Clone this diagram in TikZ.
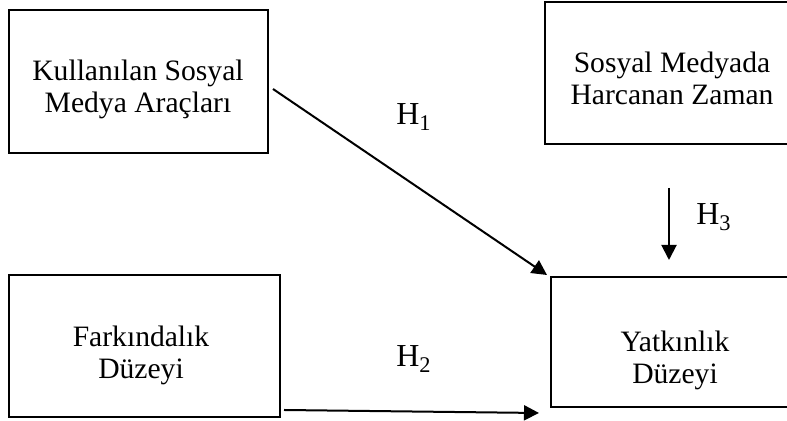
\documentclass[tikz,border=0pt]{standalone}
\usepackage{fontspec}
\setmainfont{Liberation Serif}
\usetikzlibrary{arrows.meta,calc}
\tikzset{
  kutu/.style={draw,line width=1pt,inner sep=0pt},
  yazi/.style={align=center,inner sep=0pt,anchor=base,
    font=\fontsize{14.8}{16}\selectfont},
  etiket/.style={font=\fontsize{16}{16}\selectfont,inner sep=0pt,anchor=base},
  ok/.style={line width=1pt,-{Triangle[length=7.5pt,width=7.5pt]}}
}
\begin{document}
\begin{tikzpicture}[x=0.5pt,y=0.5pt]
    \useasboundingbox (0,0) rectangle (787,421);
    % kutular
    \node[kutu,minimum width=129.5pt,minimum height=71.5pt] (kul) at (138.5,339.5) {};
    \node[kutu,minimum width=127pt,minimum height=71pt] (zam) at (672,348) {};
    \node[kutu,minimum width=135.5pt,minimum height=71pt] (far) at (144.5,75) {};
    \node[kutu,minimum width=124pt,minimum height=65pt] (yat) at (675,79) {};
    % kutu yazilari (base = son satir)
    \node[yazi] (kulyazi) at (138,308) {Kullanılan Sosyal\\Medya Araçları};
    \node[yazi] (zamyazi) at (672,316) {Sosyal Medyada\\Harcanan Zaman};
    \node[yazi] (faryazi) at (141,42) {Farkındalık\\Düzeyi};
    \node[yazi] (yatyazi) at (675,37) {Yatkınlık\\Düzeyi};
    % H1
    \draw[ok] ($(kul.east)+(4,-7.5)$) -- ($(yat.north west)+(-3,1)$);
    \node[etiket] (h1) at (414,296) {H\textsubscript{1}};
    % H3
    \coordinate (h3bas) at ($(zam.south)+(-3,-43)$);
    \coordinate (h3son) at ($(yat.north)+(-6,16)$);
    \draw[ok] (h3bas) -- (h3son);
    \node[etiket] (h3) at (714,196) {H\textsubscript{3}};
    % H2
    \coordinate (h2bas) at ($(far.south east)+(3,8)$);
    \coordinate (h2son) at ($(yat.south west)+(-11,-5)$);
    \draw[ok] (h2bas) -- (h2son);
    \node[etiket] (h2) at (414,54) {H\textsubscript{2}};
\end{tikzpicture}
\end{document}
